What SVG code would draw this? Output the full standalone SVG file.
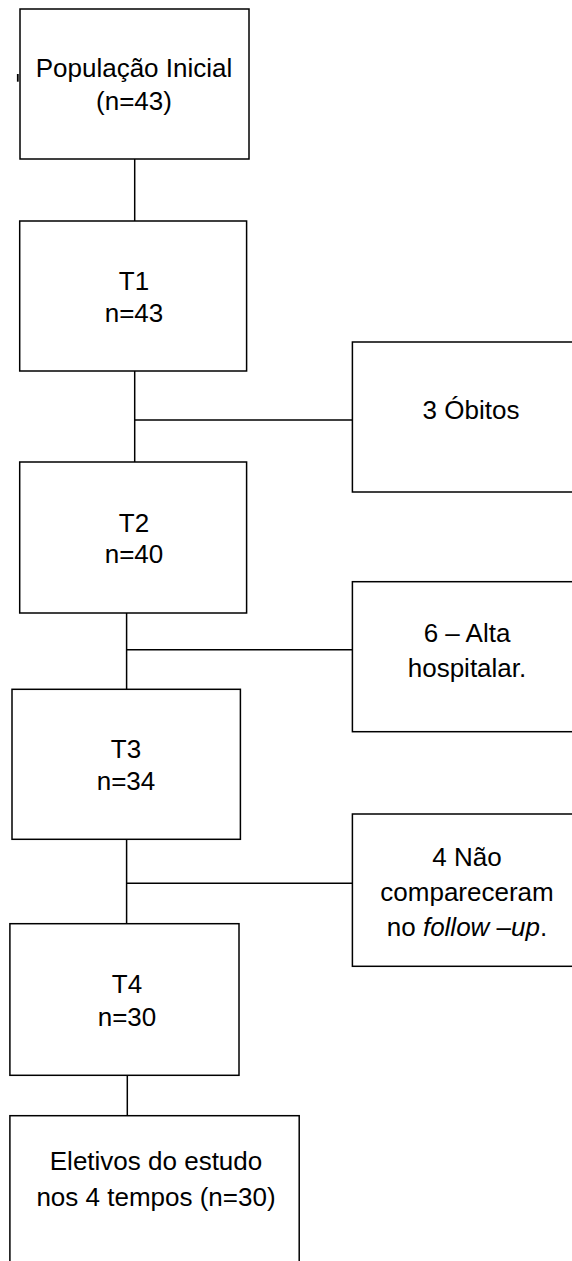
<svg xmlns="http://www.w3.org/2000/svg" width="572" height="1261" viewBox="0 0 572 1261">
<style>
.box{fill:#fff;stroke:#000;stroke-width:1.5}
.c{fill:none;stroke:#000;stroke-width:1.5}
text{font-family:"Liberation Sans",Arial,sans-serif;font-size:26px;fill:#000;text-anchor:middle}
.i{font-style:italic}
</style>
<rect width="572" height="1261" fill="#fff"/>
<g id="connectors">
<line class="c" x1="134.7" y1="159" x2="134.7" y2="221"/>
<line class="c" x1="134.7" y1="371" x2="134.7" y2="462"/>
<line class="c" x1="134.7" y1="420" x2="352.4" y2="420"/>
<line class="c" x1="126.6" y1="613" x2="126.6" y2="689.3"/>
<line class="c" x1="126.6" y1="649.7" x2="352.4" y2="649.7"/>
<line class="c" x1="126.6" y1="839.3" x2="126.6" y2="923.7"/>
<line class="c" x1="126.6" y1="883.3" x2="352.4" y2="883.3"/>
<line class="c" x1="127.3" y1="1075.3" x2="127.3" y2="1115.7"/>
</g>
<g id="pop">
<rect class="box" x="20" y="9" width="229" height="150"/>
<line x1="17.8" y1="74" x2="17.8" y2="81.7" stroke="#000" stroke-width="1.8"/>
<text x="134" y="77">População Inicial</text>
<text x="134" y="110">(n=43)</text>
</g>
<g id="t1">
<rect class="box" x="19.7" y="221" width="226.9" height="150"/>
<text x="134" y="290">T1</text>
<text x="134" y="321.7">n=43</text>
</g>
<g id="obitos">
<rect class="box" x="352.4" y="342" width="240" height="150"/>
<text x="471" y="419">3 Óbitos</text>
</g>
<g id="t2">
<rect class="box" x="19.7" y="462" width="226.9" height="151"/>
<text x="134" y="531.7">T2</text>
<text x="134" y="563">n=40</text>
</g>
<g id="alta">
<rect class="box" x="352.4" y="581.7" width="240" height="150"/>
<text x="467" y="641.7">6 – Alta</text>
<text x="467" y="676.7">hospitalar.</text>
</g>
<g id="t3">
<rect class="box" x="12" y="689.3" width="228.4" height="150"/>
<text x="126" y="757.7">T3</text>
<text x="126" y="790">n=34</text>
</g>
<g id="nao">
<rect class="box" x="352.4" y="814" width="240" height="152.3"/>
<text x="467" y="866">4 Não</text>
<text x="467" y="900.7">compareceram</text>
<text x="467" y="935.7">no <tspan class="i">follow</tspan> –<tspan class="i">up</tspan>.</text>
</g>
<g id="t4">
<rect class="box" x="9.9" y="923.7" width="229.1" height="151.6"/>
<text x="127" y="993.3">T4</text>
<text x="127" y="1025.7">n=30</text>
</g>
<g id="final">
<rect class="box" x="9.9" y="1115.7" width="289.3" height="160"/>
<text x="156" y="1170">Eletivos do estudo</text>
<text x="156" y="1205.7">nos 4 tempos (n=30)</text>
</g>
</svg>
